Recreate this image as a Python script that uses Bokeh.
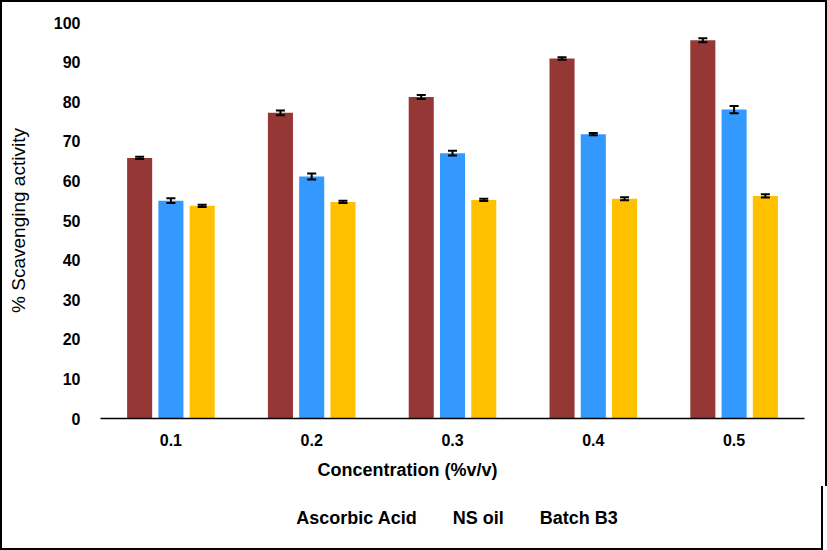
from bokeh.plotting import figure
from bokeh.models import Range1d, FixedTicker, Legend, LegendItem, ColumnDataSource, Title
from bokeh.layouts import column
from bokeh.embed import file_html
from bokeh.resources import INLINE

categories = ["0.1", "0.2", "0.3", "0.4", "0.5"]
ascorbic = [65.8, 77.2, 81.2, 90.9, 95.5]
ascorbic_err = [0.3, 0.6, 0.5, 0.3, 0.5]
ns_oil = [55.0, 61.1, 67.0, 71.8, 78.0]
ns_oil_err = [0.6, 0.75, 0.6, 0.3, 0.9]
batch_b3 = [53.7, 54.7, 55.2, 55.5, 56.2]
batch_b3_err = [0.3, 0.3, 0.3, 0.4, 0.4]

series = [
    ("Ascorbic Acid", ascorbic, ascorbic_err, "#953735", -0.222),
    ("NS oil", ns_oil, ns_oil_err, "#3399FF", 0.0),
    ("Batch B3", batch_b3, batch_b3_err, "#FFC000", 0.222),
]

FONT = "Liberation Sans"

p = figure(frame_width=700, frame_height=394, output_backend="svg", toolbar_location=None,
           x_range=Range1d(0.5, 5.5), y_range=Range1d(0, 100),
           min_border_left=98, min_border_right=25, min_border_top=20, min_border_bottom=0)
p.outline_line_color = None
p.grid.visible = False
p.background_fill_color = "white"
p.border_fill_color = "white"
p.styles = {"border-top": "2px solid black", "border-left": "2px solid black",
            "border-right": "2px solid black", "box-sizing": "border-box"}

positions = list(range(1, len(categories) + 1))
bw = 0.178
cap = 0.032
for name, vals, errs, color, off in series:
    xs = [i + off for i in positions]
    src = ColumnDataSource(dict(x=xs, top=vals,
                                lo=[v - e for v, e in zip(vals, errs)],
                                hi=[v + e for v, e in zip(vals, errs)],
                                xl=[x - cap for x in xs], xr=[x + cap for x in xs]))
    p.vbar(x="x", top="top", width=bw, source=src, fill_color=color, line_color=None)
    p.segment(x0="x", x1="x", y0="lo", y1="hi", source=src, line_color="black", line_width=2)
    p.segment(x0="xl", x1="xr", y0="lo", y1="lo", source=src, line_color="black", line_width=2)
    p.segment(x0="xl", x1="xr", y0="hi", y1="hi", source=src, line_color="black", line_width=2)

# axes
p.xaxis.ticker = FixedTicker(ticks=positions)
p.xaxis.major_label_overrides = {i: c for i, c in zip(positions, categories)}
p.xaxis.major_tick_line_color = None
p.xaxis.minor_tick_line_color = None
p.xaxis.axis_line_color = "#000000"
p.xaxis.axis_line_width = 1.5
p.xaxis.major_label_standoff = 9

p.yaxis.ticker = FixedTicker(ticks=list(range(0, 101, 10)))
p.yaxis.major_tick_line_color = None
p.yaxis.minor_tick_line_color = None
p.yaxis.axis_line_color = None
p.yaxis.axis_label = "% Scavenging activity"
p.yaxis.major_label_standoff = 14
p.yaxis.axis_label_standoff = 22

for ax in (p.xaxis[0], p.yaxis[0]):
    ax.major_label_text_font = FONT
    ax.major_label_text_font_style = "bold"
    ax.major_label_text_font_size = "16px"
    ax.major_label_text_color = "black"
p.yaxis.axis_label_text_font = FONT
p.yaxis.axis_label_text_font_style = "normal"
p.yaxis.axis_label_text_font_size = "19px"
p.yaxis.axis_label_text_color = "black"

xtitle = Title(text="Concentration (%v/v)", align="left", offset=217, standoff=18,
               text_font=FONT, text_font_style="bold", text_font_size="18px",
               text_color="black")
p.add_layout(xtitle, "below")

# legend strip below the chart
p2 = figure(width=823, height=64, output_backend="svg", toolbar_location=None,
            x_range=Range1d(0, 1), y_range=Range1d(0, 1), min_border=0,
            x_axis_type=None, y_axis_type=None)
p2.outline_line_color = None
p2.background_fill_color = "white"
p2.border_fill_color = "white"
p2.styles = {"border-bottom": "2px solid black", "border-left": "2px solid black",
             "border-right": "2px solid black", "box-sizing": "border-box"}

items = []
for name, vals, errs, color, off in series:
    r = p2.vbar(x=[], top=[], width=0.1, fill_color=color, line_color=None)
    items.append(LegendItem(label=name, renderers=[r]))

legend = Legend(items=items, orientation="horizontal", location="center",
                glyph_width=10, glyph_height=10, label_height=18, spacing=22, label_standoff=4,
                label_text_font=FONT, label_text_font_style="bold",
                label_text_font_size="18px", label_text_color="black",
                border_line_color=None, background_fill_alpha=0, margin=0, padding=2)
p2.add_layout(legend, "center")

layout = column(p, p2, spacing=0)

open("out.html", "w").write(file_html(layout, INLINE))
